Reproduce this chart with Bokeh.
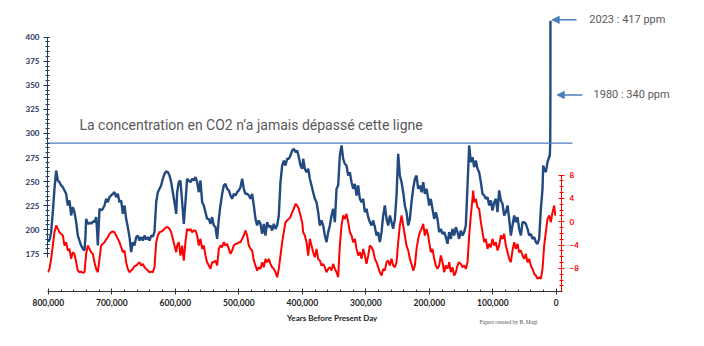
from bokeh.plotting import figure
from bokeh.layouts import column
from bokeh.models import (Range1d, LinearAxis, FixedTicker, NumeralTickFormatter,
                          Label, Arrow, NormalHead)
from bokeh.embed import file_html
from bokeh.resources import INLINE

# ---------------- data ----------------
co2_age = [799700, 797600, 795500, 792900, 790300, 787600, 785000, 782400, 779800, 777100,
           774500, 771900, 769300, 766600, 764000, 761400, 758800, 756100, 753500, 750900,
           748300, 745600, 743000, 741400, 740400, 737800, 735100, 732500, 729900, 727300,
           724600, 723000, 722000, 719400, 716800, 714100, 711500, 708900, 706300, 703600,
           701000, 698400, 695800, 693100, 690500, 687900, 685300, 682600, 680000, 677400,
           674800, 672100, 669500, 666900, 664300, 661600, 659000, 656400, 653800, 651100,
           648500, 645900, 643300, 640600, 638000, 635400, 632800, 630100, 627500, 624900,
           622300, 619600, 617000, 614400, 611800, 609100, 606500, 603900, 601300, 598600,
           597100, 594500, 591900, 589200, 586600, 584000, 581400, 578700, 576100, 573500,
           570900, 568200, 565600, 563000, 560400, 557700, 555100, 552500, 549900, 547200,
           544600, 542000, 539400, 536700, 534100, 531500, 528900, 526200, 523600, 521000,
           518400, 515700, 513100, 510500, 507900, 505200, 502600, 500000, 497400, 494700,
           492100, 489500, 486900, 484200, 481600, 479000, 476400, 473700, 471100, 468500,
           465900, 463200, 460600, 458000, 455400, 452700, 450100, 447500, 444900, 442200,
           439600, 437000, 434400, 431700, 429100, 426500, 423900, 421200, 418600, 416000,
           413400, 410700, 408100, 405500, 402900, 400200, 398600, 396000, 393400, 390700,
           388100, 385500, 382900, 380200, 377600, 375000, 372400, 369700, 367100, 364500,
           361900, 359200, 356600, 354000, 351400, 348700, 346100, 343500, 340900, 338200,
           335600, 333000, 330400, 327700, 325100, 322500, 319900, 317200, 314600, 312000,
           309400, 306700, 304100, 301500, 298900, 296200, 293600, 291000, 288400, 285700,
           283100, 280500, 277900, 275200, 272600, 270000, 267400, 264700, 262100, 259500,
           256900, 254200, 251600, 249000, 246400, 243700, 241100, 238500, 235900, 233200,
           230600, 228000, 225400, 222700, 220100, 217500, 214900, 212200, 209600, 207000,
           204400, 201700, 200200, 197600, 195000, 192300, 189700, 187100, 184500, 181800,
           179200, 176600, 174000, 171300, 168700, 166100, 163500, 160800, 158200, 155600,
           153000, 150300, 147700, 145100, 142500, 139800, 137200, 135600, 134600, 132000,
           129300, 126700, 124100, 121500, 118800, 116200, 113600, 111000, 108300, 105700,
           103100, 100500, 97800, 95200, 92600, 90000, 87300, 84700, 82100, 79500,
           76800, 74200, 71600, 69000, 66300, 63700, 61100, 58500, 55800, 53200,
           50600, 48000, 45300, 42700, 40100, 37500, 34800, 32200, 29600, 27000,
           24300, 21700, 20700, 19100, 16500, 13800, 12300, 10200, 9600, 9400,
           9300, 9200]
co2_ppm = [187.1, 190.5, 197.5, 218.2, 242.5, 261.5, 251.1, 249.4, 246.0, 244.2,
           240.8, 237.3, 225.2, 230.4, 214.8, 223.4, 218.2, 207.9, 194.0, 188.8,
           183.6, 180.2, 178.4, 194.0, 211.3, 206.1, 207.2, 206.1, 208.6, 207.9,
           213.1, 197.5, 183.6, 221.7, 220.0, 221.7, 225.2, 232.1, 228.6, 233.8,
           235.6, 237.3, 239.0, 233.8, 237.3, 228.6, 230.4, 216.5, 225.2, 211.3,
           202.7, 192.3, 176.7, 187.1, 183.6, 192.3, 194.0, 188.8, 192.3, 188.8,
           194.0, 189.9, 192.3, 188.8, 194.0, 193.0, 197.5, 228.6, 239.0, 242.5,
           246.0, 252.9, 258.1, 260.5, 259.8, 256.3, 249.4, 239.0, 228.6, 216.5,
           239.0, 249.4, 251.1, 228.6, 206.1, 228.6, 252.9, 251.1, 249.4, 252.9,
           251.1, 254.6, 249.4, 239.0, 251.1, 228.6, 225.2, 218.2, 211.3, 211.3,
           206.1, 213.1, 204.4, 202.7, 190.5, 211.3, 225.2, 237.3, 246.0, 247.7,
           242.5, 240.8, 235.6, 232.1, 237.3, 235.6, 239.0, 240.8, 244.2, 252.9,
           242.5, 237.3, 237.3, 235.6, 232.1, 237.3, 225.2, 211.3, 204.4, 209.6,
           206.1, 195.7, 206.1, 194.0, 207.9, 202.7, 204.4, 199.2, 206.1, 200.9,
           204.4, 214.8, 249.4, 266.7, 271.9, 266.7, 273.7, 273.7, 277.1, 282.3,
           284.0, 280.6, 282.3, 275.4, 266.7, 263.3, 273.7, 263.3, 259.8, 263.3,
           252.9, 246.0, 239.0, 232.1, 228.6, 218.2, 204.4, 209.6, 204.4, 194.0,
           187.1, 197.5, 204.4, 214.8, 221.7, 207.9, 242.5, 246.0, 277.1, 287.5,
           273.7, 268.5, 266.7, 256.3, 259.8, 249.4, 242.5, 247.7, 235.6, 246.0,
           232.1, 228.6, 232.1, 218.2, 221.7, 213.1, 207.9, 204.4, 209.6, 202.7,
           194.0, 197.5, 187.1, 197.5, 214.8, 225.2, 211.3, 204.4, 214.8, 207.9,
           201.0, 211.3, 235.6, 278.9, 256.3, 249.4, 239.0, 225.2, 218.2, 204.4,
           211.3, 228.6, 242.5, 252.9, 256.3, 242.5, 246.0, 239.0, 249.4, 237.3,
           242.5, 232.1, 225.2, 232.1, 221.7, 211.3, 218.2, 211.3, 197.5, 200.9,
           195.7, 197.5, 192.3, 185.4, 197.5, 190.5, 200.9, 194.0, 202.7, 197.5,
           190.5, 199.2, 194.0, 197.5, 204.4, 246.0, 287.5, 277.1, 270.2, 275.4,
           265.0, 271.9, 263.3, 259.8, 249.4, 237.3, 235.6, 232.1, 233.8, 225.2,
           230.4, 220.0, 228.6, 232.1, 218.2, 240.8, 230.4, 226.9, 214.8, 218.2,
           225.2, 211.3, 194.0, 204.4, 214.8, 207.9, 213.1, 201.0, 194.0, 207.9,
           207.9, 206.1, 201.0, 194.0, 195.7, 190.5, 192.3, 187.1, 185.4, 190.5,
           221.7, 242.5, 266.7, 263.3, 259.8, 270.2, 273.7, 277.1, 289.2, 315.0,
           340.0, 417.0]

temp_age = [800800, 798100, 795500, 792900, 790300, 787600, 785000, 782400, 779800, 777100,
            774500, 771900, 769300, 766600, 764000, 761400, 758800, 756100, 753500, 750900,
            748300, 745600, 743000, 740400, 737800, 735100, 732500, 729900, 727300, 724600,
            722000, 719400, 716800, 714100, 711500, 708900, 706300, 703600, 701000, 698400,
            695800, 693100, 690500, 687900, 685300, 682600, 680000, 677400, 674800, 672100,
            669500, 666900, 664300, 661600, 659000, 656400, 653800, 651100, 648500, 645900,
            643300, 640600, 638000, 635400, 632800, 630100, 627500, 624900, 622300, 619600,
            617000, 614400, 611800, 609100, 606500, 603900, 601300, 598600, 597100, 594500,
            591900, 589200, 586600, 584000, 581400, 578700, 576100, 573500, 570900, 568200,
            565600, 563000, 560400, 557700, 555100, 552500, 549900, 547200, 544600, 542000,
            539400, 536700, 534100, 531500, 528900, 526200, 523600, 521000, 518400, 515700,
            513100, 510500, 507900, 505200, 502600, 500000, 497400, 494700, 492100, 489500,
            486900, 484200, 481600, 479000, 476400, 473700, 471100, 468500, 465900, 463200,
            460600, 458000, 455400, 452700, 450100, 447500, 444900, 442200, 439600, 437000,
            434400, 431700, 429100, 426500, 423900, 421200, 418600, 416000, 413400, 410700,
            408100, 405500, 402900, 400200, 398600, 396000, 393400, 390700, 388100, 385500,
            382900, 380200, 377600, 375000, 372400, 369700, 367100, 364500, 361900, 359200,
            356600, 354000, 351400, 348700, 346100, 343500, 340900, 338200, 335600, 333000,
            330400, 327700, 325100, 322500, 319900, 317200, 314600, 312000, 309400, 306700,
            304100, 301500, 298900, 296200, 293600, 291000, 288400, 285700, 283100, 280500,
            277900, 275200, 272600, 270000, 267400, 264700, 262100, 259500, 256900, 254200,
            251600, 249000, 246400, 243700, 241100, 238500, 235900, 233200, 230600, 228000,
            225400, 222700, 220100, 217500, 214900, 212200, 209600, 207000, 204400, 201700,
            200200, 197600, 195000, 192300, 189700, 187100, 184500, 181800, 179200, 176600,
            174000, 171300, 168700, 166100, 163500, 160800, 158200, 155600, 153000, 150300,
            147700, 145100, 142500, 139800, 137200, 134600, 132000, 130900, 129300, 126700,
            124100, 121500, 118800, 116200, 113600, 111000, 108300, 105700, 103100, 100500,
            97800, 95200, 92600, 90000, 87300, 84700, 82100, 79500, 76800, 74200,
            71600, 69000, 66300, 63700, 61100, 58500, 55800, 53200, 50600, 48000,
            45300, 42700, 40100, 37500, 34800, 32200, 29600, 27000, 24300, 21700,
            19100, 16500, 13800, 11200, 8600, 6000, 3300, 1700]
temp_anom = [-8.66, -8.09, -6.37, -4.09, -1.80, -0.65, -1.23, -1.80, -2.08, -2.37,
             -4.09, -3.51, -4.94, -4.66, -6.37, -5.23, -5.52, -6.95, -8.38, -8.66,
             -8.55, -8.78, -8.66, -5.52, -4.09, -4.66, -5.23, -5.52, -6.95, -8.09,
             -8.66, -6.37, -4.09, -3.80, -3.51, -3.06, -2.66, -2.08, -1.80, -1.68,
             -1.80, -2.37, -2.94, -3.51, -4.37, -5.23, -4.94, -6.95, -8.09, -8.66,
             -8.38, -8.09, -7.63, -7.52, -7.23, -6.95, -7.52, -7.23, -7.80, -8.09,
             -8.38, -8.66, -8.55, -8.66, -7.80, -3.51, -2.37, -1.80, -1.68, -1.51,
             -1.23, -0.94, -0.94, -1.23, -1.80, -2.94, -4.09, -5.23, -4.09, -3.51,
             -5.80, -4.09, -6.66, -3.51, -1.23, -1.51, -1.23, -1.80, -1.51, -1.51,
             -2.37, -4.09, -2.94, -4.66, -4.09, -5.80, -6.95, -7.52, -8.09, -6.95,
             -6.95, -6.66, -7.52, -4.66, -4.09, -4.37, -3.51, -4.09, -3.80, -4.66,
             -5.52, -4.94, -4.09, -3.80, -3.80, -3.51, -3.51, -2.94, -2.37, -1.51,
             -2.37, -4.09, -4.66, -4.94, -6.66, -7.52, -8.38, -7.80, -8.09, -6.95,
             -7.80, -6.37, -6.95, -6.37, -7.23, -7.80, -8.09, -8.66, -9.52, -8.09,
             -5.80, -3.51, -1.80, -0.08, 0.20, 0.49, 0.78, 1.63, 2.20, 3.06,
             2.78, 2.20, 1.06, -0.08, -1.80, -2.37, -3.51, -5.80, -2.94, -4.09,
             -5.23, -6.09, -4.66, -6.37, -6.66, -7.52, -7.23, -7.80, -8.66, -8.09,
             -7.80, -8.38, -7.23, -8.09, -8.66, -9.52, -4.09, -0.65, 1.06, 0.49,
             1.35, -0.08, -1.80, -2.37, -3.51, -2.94, -4.66, -5.80, -5.23, -6.37,
             -4.66, -5.80, -7.23, -5.80, -4.09, -4.37, -4.94, -6.37, -6.95, -7.80,
             -8.66, -9.23, -8.09, -8.38, -6.95, -6.66, -7.52, -6.37, -7.52, -7.80,
             -6.95, -3.51, -0.65, 1.06, -0.65, -2.37, -4.09, -4.94, -6.37, -7.23,
             -8.38, -7.52, -4.66, -2.94, -1.80, -1.23, -0.37, -2.37, -1.23, -2.37,
             -3.51, -5.23, -4.66, -6.37, -7.52, -8.09, -7.52, -5.80, -6.95, -8.66,
             -7.52, -8.09, -6.95, -8.66, -7.80, -9.23, -8.66, -7.52, -6.95, -7.23,
             -7.80, -7.52, -8.09, -6.95, -2.37, 1.06, 3.92, 5.35, 3.35, 3.92,
             2.49, 2.20, -0.08, -1.80, -3.51, -2.94, -4.66, -3.80, -4.37, -2.94,
             -4.09, -3.51, -4.94, -4.09, -2.37, -2.94, -2.08, -4.09, -5.23, -6.37,
             -6.95, -4.94, -3.51, -4.66, -3.80, -5.23, -4.94, -5.80, -6.37, -5.52,
             -6.95, -6.37, -7.52, -8.09, -8.95, -9.23, -9.80, -9.52, -9.80, -8.09,
             -4.09, -1.80, 0.49, 1.06, -0.08, 1.63, 2.78, 1.06]

x_ticks = [0, 100000, 200000, 300000, 400000, 500000, 600000, 700000, 800000]
co2_ticks = [175, 200, 225, 250, 275, 300, 325, 350, 375, 400]
temp_ticks = [-8, -4, 0, 4, 8]
threshold_ppm = 290
threshold_span = [801260, -25500]
note_2023 = (418, "2023 : 417 ppm")
note_1980 = (340, "1980 : 340 ppm")
x_title = "Years Before Present Day"
credit_text = "Figure created by B. Magi"

BLUE = "#234a80"
RED = "#ff0000"
NAVY = "#1f3864"
LINE_BLUE = "#4a7ebb"
GREY = "#595959"

# main plot: 704 x 310, frame x 47..674 px, y 10..291 px
p = figure(width=704, height=310, output_backend="svg", toolbar_location=None,
           x_range=Range1d(801260, -186140), y_range=Range1d(135.85, 427.7),
           min_border_left=47, min_border_right=30, min_border_top=10,
           min_border_bottom=19)
p.title.visible = False
p.outline_line_color = None
p.grid.visible = False
p.background_fill_color = "white"
p.border_fill_color = "white"
p.extra_y_ranges = {"temp": Range1d(-11.97, 36.23)}

# lines
p.line(temp_age, temp_anom, y_range_name="temp", line_color=RED, line_width=2.0)
p.line(co2_age, co2_ppm, line_color=BLUE, line_width=2.4)

# x axis
xa = p.xaxis[0]
xa.bounds = (801260, -10000)
xa.ticker = FixedTicker(ticks=x_ticks, minor_ticks=list(range(0, 800001, 20000)))
xa.formatter = NumeralTickFormatter(format="0,0")
xa.axis_line_color = "#333333"
xa.major_tick_line_color = "#333333"
xa.minor_tick_line_color = "#333333"
xa.major_tick_in = 3
xa.major_tick_out = 3
xa.minor_tick_in = 2
xa.minor_tick_out = 0
xa.major_label_standoff = 4
xa.major_label_text_font = "Lato"
xa.major_label_text_font_style = "bold"
xa.major_label_text_font_size = "8.5px"
xa.major_label_text_color = "#222222"

# left CO2 axis
ya = p.yaxis[0]
ya.bounds = (171, 400)
ya.ticker = FixedTicker(ticks=co2_ticks, minor_ticks=list(range(175, 401, 5)))
ya.axis_line_color = NAVY
ya.major_tick_line_color = NAVY
ya.minor_tick_line_color = NAVY
ya.major_tick_in = 2
ya.major_tick_out = 4
ya.minor_tick_in = 2
ya.minor_tick_out = 2
ya.major_label_standoff = 4
ya.major_label_text_font = "Lato"
ya.major_label_text_font_style = "bold"
ya.major_label_text_font_size = "8px"
ya.major_label_text_color = NAVY

# right temperature axis, drawn at the right end of the time axis
ra = LinearAxis(y_range_name="temp", bounds=(-12, 8), fixed_location=-8190)
ra.ticker = FixedTicker(ticks=temp_ticks, minor_ticks=list(range(-12, 9)))
ra.axis_line_color = RED
ra.major_tick_line_color = RED
ra.minor_tick_line_color = RED
ra.major_tick_in = 3
ra.major_tick_out = 3
ra.minor_tick_in = 2
ra.minor_tick_out = 2
ra.major_label_standoff = 5
ra.major_label_text_font = "Lato"
ra.major_label_text_font_style = "bold"
ra.major_label_text_font_size = "8px"
ra.major_label_text_color = RED
p.add_layout(ra, "right")

# threshold line
p.segment(x0=[threshold_span[0]], y0=[threshold_ppm], x1=[threshold_span[1]], y1=[threshold_ppm],
          line_color=LINE_BLUE, line_width=1.2)
p.add_layout(Label(x=750900, y=308.3, text="La concentration en CO2 n’a jamais dépassé cette ligne",
                   text_font="Roboto", text_font_size="14px", text_color=GREY,
                   text_baseline="middle"))

# annotations
p.add_layout(Arrow(x_start=-31800, y_start=note_2023[0], x_end=6500, y_end=note_2023[0],
                   end=NormalHead(size=7, fill_color=LINE_BLUE, line_color=LINE_BLUE),
                   line_color=LINE_BLUE, line_width=1.5))
p.add_layout(Arrow(x_start=-40800, y_start=note_1980[0], x_end=-1400, y_end=note_1980[0],
                   end=NormalHead(size=7, fill_color=LINE_BLUE, line_color=LINE_BLUE),
                   line_color=LINE_BLUE, line_width=1.5))
p.add_layout(Label(x=-52000, y=note_2023[0], text=note_2023[1], text_font="Roboto",
                   text_font_size="11px", text_color=GREY, text_baseline="middle"))
p.add_layout(Label(x=-58600, y=note_1980[0], text=note_1980[1], text_font="Roboto",
                   text_font_size="11px", text_color=GREY, text_baseline="middle"))

# bottom strip (canvas rows 310..346) holding the axis title and the credit;
# its frame is aligned with the main frame, so it shares the time range
foot = figure(width=704, height=36, output_backend="svg", toolbar_location=None,
              x_range=p.x_range, y_range=Range1d(346, 310),
              min_border=0, min_border_left=0, min_border_right=0,
              min_border_top=0, min_border_bottom=0)
foot.axis.visible = False
foot.grid.visible = False
foot.title.visible = False
foot.outline_line_color = None
foot.background_fill_color = "white"
foot.border_fill_color = "white"
foot.add_layout(Label(x=352900, y=317.5, text=x_title, text_font="Lato", text_font_style="bold",
                      text_font_size="8px", text_color="#222222", text_align="center",
                      text_baseline="middle"))
foot.add_layout(Label(x=120900, y=321.5, text=credit_text, text_font="Liberation Serif",
                      text_font_size="5.5px", text_color="#555555", text_baseline="middle"))

layout = column(p, foot, spacing=0)
open("out.html", "w").write(file_html(layout, INLINE))
